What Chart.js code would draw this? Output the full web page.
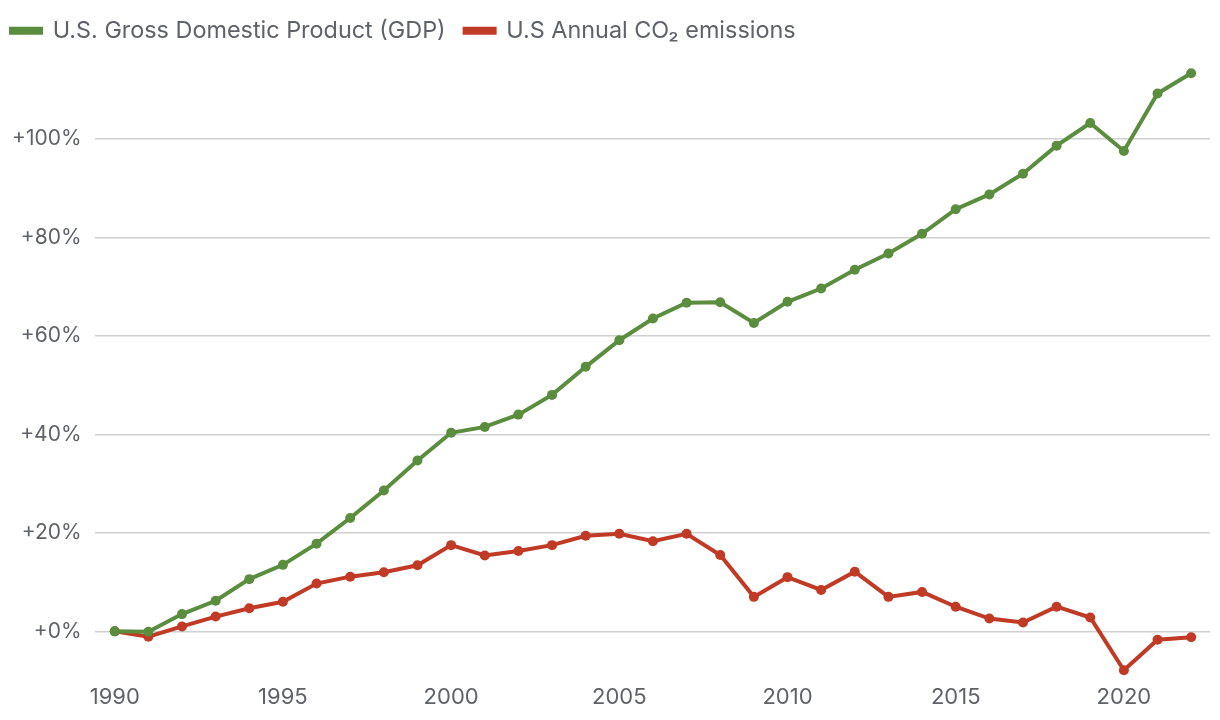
<!DOCTYPE html>
<html>
<head>
<meta charset="utf-8">
<script src="https://cdn.jsdelivr.net/npm/chart.js@4/dist/chart.umd.min.js"></script>
<style>
  html, body { margin: 0; padding: 0; background: #ffffff; }
  #wrap { width: 1220px; height: 720px; position: relative; }
</style>
</head>
<body>
<div id="wrap"><canvas id="c" width="1220" height="720"></canvas></div>
<script>
const years = [1990,1991,1992,1993,1994,1995,1996,1997,1998,1999,2000,2001,2002,2003,2004,2005,2006,2007,2008,2009,2010,2011,2012,2013,2014,2015,2016,2017,2018,2019,2020,2021,2022];
const gdpChange = [0,-0.1,3.5,6.2,10.6,13.5,17.8,23.0,28.6,34.7,40.3,41.5,44.0,48.0,53.7,59.1,63.5,66.7,66.8,62.6,66.9,69.6,73.4,76.7,80.7,85.7,88.7,92.9,98.6,103.2,97.5,109.2,113.3];
const co2Change = [0,-1.1,1.0,3.0,4.7,6.0,9.7,11.1,12.0,13.4,17.5,15.4,16.3,17.5,19.4,19.8,18.3,19.8,15.5,7.0,11.0,8.4,12.1,7.0,8.0,5.0,2.6,1.8,5.0,2.8,-7.9,-1.7,-1.2];
const seriesLabels = ["U.S. Gross Domestic Product (GDP)", "U.S Annual CO\u2082 emissions"];
const xTickYears = [1990,1995,2000,2005,2010,2015,2020];
const yTickValues = [0,20,40,60,80,100];

const GREEN = '#5a8d3e';
const RED = '#c03a25';
const TEXT = '#5f6268';
const FONT = 'Inter';

const toPts = arr => years.map((y, i) => ({x: y, y: arr[i]}));

const legendSpacer = {
  id: 'legendSpacer',
  beforeInit(chart) {
    const origFit = chart.legend.fit;
    chart.legend.fit = function () {
      origFit.bind(chart.legend)();
      this.height += 10;
    };
  },
  afterLayout(chart) {
    chart.legend.left -= 7;
  }
};

new Chart(document.getElementById('c'), {
  type: 'line',
  data: {
    datasets: [
      { label: seriesLabels[0], data: toPts(gdpChange), borderColor: GREEN, backgroundColor: GREEN,
        borderWidth: 4, pointRadius: 5, pointBackgroundColor: GREEN, pointBorderWidth: 0, tension: 0 },
      { label: seriesLabels[1], data: toPts(co2Change), borderColor: RED, backgroundColor: RED,
        borderWidth: 4, pointRadius: 5, pointBackgroundColor: RED, pointBorderWidth: 0, tension: 0 }
    ]
  },
  plugins: [legendSpacer],
  options: {
    responsive: false,
    animation: false,
    devicePixelRatio: 1,
    layout: { padding: { left: -1, right: 10, top: 0, bottom: 5 } },
    plugins: {
      tooltip: { enabled: false },
      legend: {
        position: 'top',
        align: 'start',
        labels: {
          color: TEXT,
          font: { family: FONT, size: 23.4 },
          boxWidth: 30,
          boxHeight: 4,
          padding: 19
        }
      }
    },
    scales: {
      x: {
        type: 'linear',
        min: 1989.4,
        max: 2022.56,
        afterBuildTicks: s => { s.ticks = xTickYears.map(v => ({value: v})); },
        grid: { display: false, drawTicks: false },
        border: { display: false },
        ticks: { color: TEXT, font: { family: FONT, size: 22 }, padding: 4, maxRotation: 0,
                 callback: v => String(v) }
      },
      y: {
        type: 'linear',
        min: -10,
        max: 115.5,
        afterBuildTicks: s => { s.ticks = yTickValues.map(v => ({value: v})); },
        grid: { color: '#d0d0d0', lineWidth: 1.5, drawTicks: false },
        border: { display: false },
        ticks: { color: TEXT, font: { family: FONT, size: 21 }, padding: 13,
                 callback: v => '+' + v + '%' }
      }
    }
  }
});
</script>
</body>
</html>
